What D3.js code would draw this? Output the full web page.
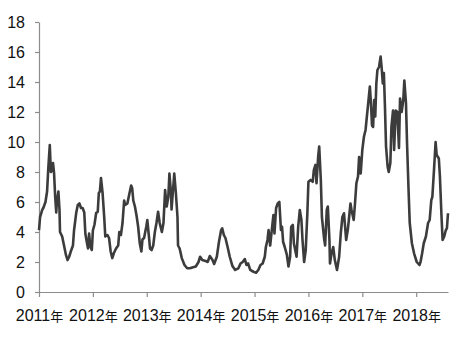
<!DOCTYPE html>
<html>
<head>
<meta charset="utf-8">
<script src="https://cdn.jsdelivr.net/npm/d3@7"></script>
<style>
  body { margin: 0; background: #fff; }
  .axis text { font-family: "Liberation Sans Narrow", "Liberation Sans", Arial, sans-serif; fill: #111; }
</style>
</head>
<body>
<div id="chart"></div>
<script>
// Weekly-ish series: decimal year -> value
const years = [
  2011.00, 2011.02, 2011.06, 2011.08, 2011.12, 2011.15, 2011.17, 2011.20, 2011.22, 2011.24,
  2011.26, 2011.28, 2011.30, 2011.32, 2011.33, 2011.36, 2011.38, 2011.39, 2011.43, 2011.47,
  2011.50, 2011.53, 2011.56, 2011.59, 2011.63, 2011.65, 2011.69, 2011.72, 2011.75, 2011.78,
  2011.81, 2011.84, 2011.86, 2011.88, 2011.91, 2011.93, 2011.95, 2011.98, 2012.00, 2012.03,
  2012.06, 2012.09, 2012.11, 2012.13, 2012.15, 2012.18, 2012.21, 2012.23, 2012.27, 2012.30,
  2012.33, 2012.36, 2012.39, 2012.43, 2012.47, 2012.49, 2012.52, 2012.55, 2012.58, 2012.60,
  2012.64, 2012.68, 2012.71, 2012.73, 2012.75, 2012.78, 2012.81, 2012.84, 2012.87, 2012.90,
  2012.92, 2012.95, 2012.99, 2013.01, 2013.04, 2013.06, 2013.09, 2013.12, 2013.15, 2013.18,
  2013.21, 2013.24, 2013.28, 2013.31, 2013.34, 2013.37, 2013.40, 2013.42, 2013.45, 2013.46,
  2013.51, 2013.54, 2013.57, 2013.58, 2013.61, 2013.65, 2013.70, 2013.75, 2013.80, 2013.86,
  2013.91, 2013.96, 2013.99, 2014.03, 2014.09, 2014.13, 2014.17, 2014.22, 2014.25, 2014.30,
  2014.34, 2014.38, 2014.40, 2014.43, 2014.46, 2014.50, 2014.54, 2014.59, 2014.64, 2014.70,
  2014.74, 2014.78, 2014.82, 2014.85, 2014.88, 2014.92, 2014.98, 2015.03, 2015.07, 2015.11,
  2015.15, 2015.19, 2015.21, 2015.24, 2015.26, 2015.29, 2015.32, 2015.35, 2015.37, 2015.40,
  2015.43, 2015.46, 2015.49, 2015.51, 2015.53, 2015.56, 2015.60, 2015.63, 2015.66, 2015.68,
  2015.71, 2015.73, 2015.76, 2015.78, 2015.81, 2015.84, 2015.87, 2015.89, 2015.92, 2015.95,
  2015.98, 2016.00, 2016.04, 2016.08, 2016.10, 2016.13, 2016.15, 2016.18, 2016.20, 2016.23,
  2016.25, 2016.29, 2016.31, 2016.34, 2016.36, 2016.39, 2016.40, 2016.43, 2016.46, 2016.49,
  2016.53, 2016.57, 2016.60, 2016.63, 2016.66, 2016.70, 2016.73, 2016.75, 2016.78, 2016.80,
  2016.84, 2016.86, 2016.89, 2016.92, 2016.94, 2016.97, 2017.00, 2017.03, 2017.06, 2017.09,
  2017.11, 2017.14, 2017.16, 2017.18, 2017.20, 2017.22, 2017.24, 2017.26, 2017.28, 2017.31,
  2017.34, 2017.36, 2017.38, 2017.40, 2017.42, 2017.44, 2017.47, 2017.49, 2017.52, 2017.54,
  2017.57, 2017.59, 2017.62, 2017.65, 2017.68, 2017.70, 2017.73, 2017.76, 2017.78, 2017.81,
  2017.83, 2017.86, 2017.88, 2017.92, 2017.96, 2018.01, 2018.06, 2018.08, 2018.11, 2018.14,
  2018.18, 2018.22, 2018.25, 2018.28, 2018.30, 2018.33, 2018.36, 2018.38, 2018.42, 2018.44,
  2018.47, 2018.49, 2018.52, 2018.55, 2018.57, 2018.59
];
const values = [
  4.13, 5.0, 5.47, 5.6, 6.0, 6.7, 8.1, 9.8, 8.0, 8.1,
  8.6, 7.9, 6.35, 5.3, 5.9, 6.7, 5.5, 4.0, 3.7, 3.0,
  2.47, 2.13, 2.35, 2.7, 3.1, 4.1, 5.26, 5.8, 5.9, 5.6,
  5.6, 5.3, 3.9, 3.47, 2.9, 3.9, 3.1, 2.8, 4.1, 4.5,
  5.26, 5.35, 6.6, 6.7, 7.6, 6.6, 5.0, 3.7, 3.8, 3.6,
  2.7, 2.26, 2.6, 2.9, 3.1, 4.0, 3.8, 4.6, 6.1, 5.8,
  5.9, 6.6, 7.1, 6.9, 6.1, 5.7, 5.1, 4.35, 3.25, 2.7,
  3.5, 3.6, 4.35, 4.8, 3.7, 2.9, 2.8, 3.1, 4.0, 4.6,
  5.35, 4.6, 4.0, 4.6, 6.8, 5.7, 6.35, 7.9, 6.6, 5.5,
  7.9, 6.6, 5.0, 3.1, 2.9, 2.26, 1.8, 1.58, 1.58, 1.65,
  1.7, 2.0, 2.35, 2.13, 2.07, 2.0, 2.4, 2.13, 1.87, 2.35,
  3.35, 4.13, 4.25, 3.8, 3.6, 3.0, 2.35, 1.73, 1.47, 1.58,
  1.9, 2.0, 2.2, 1.8, 1.9, 1.47, 1.35, 1.29, 1.47, 1.8,
  1.9, 2.35, 3.0, 3.47, 4.13, 3.1, 4.13, 5.13, 3.9, 5.6,
  5.9, 6.0, 4.13, 4.35, 3.35, 3.0, 2.47, 1.7, 2.35, 4.35,
  4.47, 3.25, 2.7, 2.35, 4.35, 5.47, 4.8, 3.47, 2.0, 2.8,
  5.25, 7.35, 7.47, 7.35, 8.13, 8.47, 7.25, 9.0, 9.7, 7.47,
  5.0, 3.58, 3.1, 5.47, 5.7, 3.47, 1.9, 2.6, 3.0, 2.13,
  1.47, 2.35, 3.9, 5.0, 5.25, 3.47, 4.13, 4.8, 5.9, 5.47,
  4.8, 5.7, 7.25, 7.7, 9.0, 7.9, 9.47, 10.35, 10.8, 11.9,
  12.6, 13.7, 12.6, 11.1, 11.0, 12.8, 11.7, 13.9, 14.8, 15.0,
  15.7, 14.9, 13.9, 14.6, 12.35, 9.7, 8.35, 8.0, 8.6, 11.0,
  12.1, 9.47, 12.1, 12.0, 9.6, 12.9, 12.0, 12.8, 14.1, 12.6,
  9.9, 6.6, 4.6, 3.25, 2.58, 2.0, 1.8, 2.0, 2.58, 3.25,
  3.7, 4.6, 4.8, 6.13, 6.35, 8.13, 10.0, 9.13, 8.9, 7.7,
  5.0, 3.47, 3.7, 4.13, 4.25, 5.25
];
const yearTicks = [2011, 2012, 2013, 2014, 2015, 2016, 2017, 2018];
const yTicks = [0, 2, 4, 6, 8, 10, 12, 14, 16, 18];

const data = years.map((y, i) => ({ year: y, value: values[i] }));

const W = 464, H = 337;
const margin = { top: 22, right: 16, bottom: 45, left: 39 };

const svg = d3.select('#chart').append('svg')
  .attr('width', W)
  .attr('height', H);

const x = d3.scaleLinear()
  .domain([2011, 2018.59])
  .range([margin.left, W - margin.right]);

const y = d3.scaleLinear()
  .domain([0, 18])
  .range([H - margin.bottom, margin.top]);

// X axis
const xAxis = svg.append('g')
  .attr('class', 'axis')
  .attr('transform', `translate(0,${H - margin.bottom})`)
  .call(d3.axisBottom(x).tickValues(yearTicks).tickSize(5).tickSizeOuter(0).tickPadding(13)
    .tickFormat(d => d));
xAxis.selectAll('text').attr('font-size', '16px').each(function(d) {
  const t = d3.select(this);
  t.text(null);
  t.append('tspan').text(d);
  t.append('tspan').attr('font-size', '13px')
    .attr('font-family', '"Noto Sans CJK SC", sans-serif').text('年');
});

// Y axis
const yAxis = svg.append('g')
  .attr('class', 'axis')
  .attr('transform', `translate(${margin.left},0)`)
  .call(d3.axisLeft(y).tickValues(yTicks).tickSize(4).tickSizeOuter(0).tickPadding(10));
yAxis.selectAll('text').attr('font-size', '16px');

svg.selectAll('.axis path, .axis line').attr('stroke', '#8c8c8c').attr('stroke-width', 1.2);

// Series line
const line = d3.line()
  .x(d => x(d.year))
  .y(d => y(d.value));

svg.append('path')
  .datum(data)
  .attr('fill', 'none')
  .attr('stroke', '#3c3c3c')
  .attr('stroke-width', 2.6)
  .attr('stroke-linejoin', 'round')
  .attr('d', line);
</script>
</body>
</html>
